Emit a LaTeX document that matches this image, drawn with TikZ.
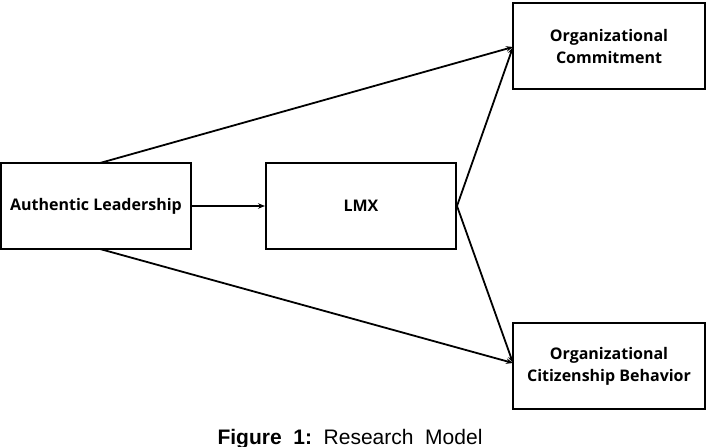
\documentclass[tikz,border=0pt]{standalone}
\usepackage{fontspec}
\setmainfont{Open Sans}
\newfontfamily\capfont{Liberation Sans}
\usetikzlibrary{arrows.meta}

\tikzset{
    varbox/.style={draw, line width=2pt, minimum width=190pt, minimum height=86pt,
        align=center, font=\fontsize{16}{22}\selectfont\bfseries, inner sep=0pt},
    path/.style={line width=1.8pt, -{Stealth[length=7pt,width=5.5pt]}}
}

\begin{document}
\begin{tikzpicture}[x=1pt, y=-1pt]
    \useasboundingbox (0,0) rectangle (712,447);

    \node[varbox] (auth) at (96,206) {Authentic Leadership};
    \node[varbox] (lmx) at (361,206) {LMX};
    \node[varbox, minimum width=192pt] (commit) at (609,46) {Organizational\\Commitment};
    \node[varbox, minimum width=192pt] (ocb) at (609,366) {Organizational\\Citizenship Behavior};

    \coordinate (authtop) at (100,163);
    \coordinate (authbot) at (100,249);
    \coordinate (commitin) at (513,47);
    \coordinate (ocbin) at (513,363);

    \draw[path] (auth) -- (lmx);
    \draw[path] (authtop) -- (commitin);
    \draw[path] (authbot) -- (ocbin);
    \draw[path] (lmx.east) -- (commitin);
    \draw[path] (lmx.east) -- (ocbin);

    % caption
    \node[font=\capfont\fontsize{21}{24}\selectfont, anchor=base] (caption) at (350,444)
        {\textbf{Figure\ \ 1:}\ \ Research\ \ Model};
\end{tikzpicture}
\end{document}
